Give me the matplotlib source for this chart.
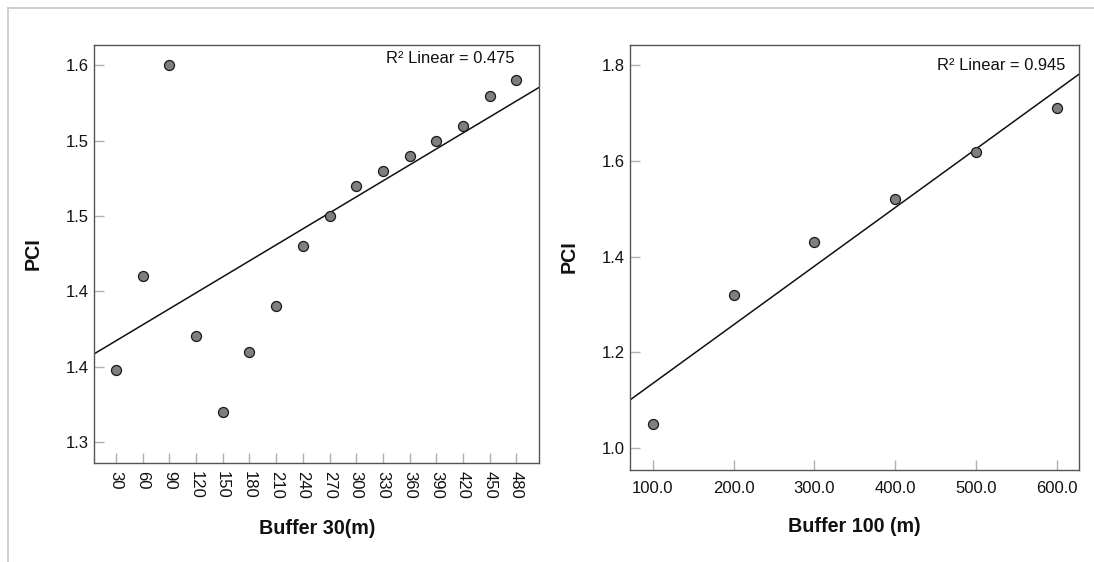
import numpy as np
import matplotlib
matplotlib.use("Agg")
import matplotlib.pyplot as plt
from matplotlib.lines import Line2D

plt.rcParams['font.family'] = ['Liberation Sans', 'DejaVu Sans']

# ---- data: left panel ----
buf30_x = [30, 60, 90, 120, 150, 180, 210, 240, 270, 300, 330, 360, 390, 420, 450, 480]
buf30_pci = [1.348, 1.41, 1.55, 1.37, 1.32, 1.36, 1.39, 1.43, 1.45, 1.47, 1.48, 1.49,
             1.50, 1.51, 1.53, 1.54]
buf30_yticks = [1.30, 1.35, 1.40, 1.45, 1.50, 1.55]
buf30_yticklabels = ["1.3", "1.4", "1.4", "1.5", "1.5", "1.6"]
buf30_r2 = "R² Linear = 0.475"

# ---- data: right panel ----
buf100_x = [100, 200, 300, 400, 500, 600]
buf100_pci = [1.05, 1.32, 1.43, 1.52, 1.62, 1.71]
buf100_yticks = [1.0, 1.2, 1.4, 1.6, 1.8]
buf100_xticklabels = ["100.0", "200.0", "300.0", "400.0", "500.0", "600.0"]
buf100_r2 = "R² Linear = 0.945"

fig = plt.figure(figsize=(10.94, 5.62), dpi=100)
fig.patch.set_facecolor('white')

# outer light border (top and left)
fig.add_artist(Line2D([8/1094, 1], [1-8/562, 1-8/562], color='#c8c8c8', lw=1.2,
                      transform=fig.transFigure))
fig.add_artist(Line2D([8/1094, 8/1094], [0, 1-8/562], color='#c8c8c8', lw=1.2,
                      transform=fig.transFigure))

ax1 = fig.add_axes([0.0859, 0.1762, 0.4068, 0.7444])
ax2 = fig.add_axes([0.5762, 0.1644, 0.4104, 0.7562])

TICK_FS = 12
LABEL_FS = 14.2
R2_FS = 11.9


def style(ax):
    for s in ax.spines.values():
        s.set_color('#555555')
        s.set_linewidth(1.0)
    ax.tick_params(direction='in', length=7.5, width=1.0, color='#b0b0b0',
                   labelsize=TICK_FS, labelcolor='#111111')


# left
style(ax1)
ax1.scatter(buf30_x, buf30_pci, s=52, facecolor='#7f7f7f', edgecolor='#1a1a1a',
            linewidth=0.9, zorder=3)
xl1 = (5.3, 505.4)
m1, b1 = np.polyfit(buf30_x, buf30_pci, 1)
ax1.plot(xl1, [m1*xl1[0]+b1, m1*xl1[1]+b1], color='#111111', lw=1.1, zorder=2)
ax1.set_xlim(*xl1)
ax1.set_ylim(1.286, 1.5638)
ax1.set_xticks(buf30_x)
ax1.set_xticklabels([str(v) for v in buf30_x], rotation=270)
ax1.set_yticks(buf30_yticks)
ax1.set_yticklabels(buf30_yticklabels)
ax1.tick_params(axis='x', pad=6)
ax1.tick_params(axis='y', pad=4)
ax1.set_xlabel("Buffer 30(m)", fontsize=LABEL_FS, fontweight='bold', color='#111111')
ax1.set_ylabel("PCI", fontsize=LABEL_FS, fontweight='bold', color='#111111')
ax1.xaxis.set_label_coords(0.501, -0.133)
ax1.xaxis.label.set_va('top')
ax1.yaxis.set_label_coords(-0.115, 0.5)
ax1.text(0.944, 0.968, buf30_r2, transform=ax1.transAxes, ha='right', va='center',
         fontsize=R2_FS, color='#111111')

# right
style(ax2)
ax2.scatter(buf100_x, buf100_pci, s=52, facecolor='#7f7f7f', edgecolor='#1a1a1a',
            linewidth=0.9, zorder=3)
xl2 = (72.2, 627.8)
m2, b2 = np.polyfit(buf100_x, buf100_pci, 1)
ax2.plot(xl2, [m2*xl2[0]+b2, m2*xl2[1]+b2], color='#111111', lw=1.1, zorder=2)
ax2.set_xlim(*xl2)
ax2.set_ylim(0.955, 1.8435)
ax2.set_xticks(buf100_x)
ax2.set_xticklabels(buf100_xticklabels)
ax2.set_yticks(buf100_yticks)
ax2.set_yticklabels([f"{v:.1f}" for v in buf100_yticks])
ax2.tick_params(axis='x', pad=8)
ax2.tick_params(axis='y', pad=4)
ax2.set_xlabel("Buffer 100 (m)", fontsize=LABEL_FS, fontweight='bold', color='#111111')
ax2.set_ylabel("PCI", fontsize=LABEL_FS, fontweight='bold', color='#111111')
ax2.xaxis.set_label_coords(0.498, -0.1115)
ax2.xaxis.label.set_va('top')
ax2.yaxis.set_label_coords(-0.1145, 0.5)
ax2.text(0.969, 0.950, buf100_r2, transform=ax2.transAxes, ha='right', va='center',
         fontsize=R2_FS, color='#111111')

fig.savefig("out.png", dpi=100, facecolor='white')
